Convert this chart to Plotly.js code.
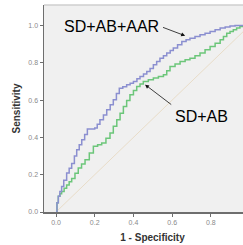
<!DOCTYPE html>
<html><head><meta charset="utf-8">
<script src="https://cdn.plot.ly/plotly-3.0.1.min.js"></script>
<style>html,body{margin:0;padding:0;overflow:hidden;background:#fff}</style>
</head><body><div id="chart"></div>
<script>
const blueX = [0,0.005,0.012,0.02,0.029,0.04,0.055,0.068,0.081,0.095,0.107,0.12,0.133,0.148,0.162,0.18,0.2,0.213,0.227,0.245,0.262,0.28,0.296,0.312,0.327,0.345,0.365,0.383,0.4,0.418,0.434,0.452,0.469,0.486,0.503,0.52,0.537,0.555,0.572,0.59,0.606,0.628,0.65,0.672,0.692,0.718,0.744,0.77,0.796,0.822,0.848,0.874,0.899,0.925,0.95,0.975,1];
const blueY = [0,0.05,0.084,0.11,0.137,0.17,0.209,0.235,0.26,0.3,0.334,0.36,0.387,0.415,0.445,0.445,0.45,0.47,0.495,0.52,0.548,0.575,0.602,0.635,0.664,0.672,0.682,0.69,0.70,0.715,0.727,0.74,0.753,0.77,0.789,0.807,0.825,0.838,0.852,0.866,0.879,0.897,0.914,0.923,0.932,0.941,0.95,0.959,0.968,0.977,0.986,0.992,0.998,1,1,1,1];
const greenX = [0,0.005,0.012,0.02,0.029,0.042,0.055,0.068,0.081,0.098,0.115,0.132,0.15,0.172,0.193,0.215,0.236,0.258,0.279,0.296,0.314,0.331,0.348,0.365,0.382,0.4,0.417,0.434,0.451,0.477,0.503,0.529,0.555,0.572,0.589,0.615,0.641,0.667,0.692,0.718,0.744,0.77,0.796,0.822,0.848,0.865,0.882,0.899,0.916,0.933,0.95,0.975,1];
const greenY = [0,0.05,0.084,0.098,0.11,0.128,0.145,0.162,0.18,0.208,0.236,0.258,0.28,0.316,0.352,0.36,0.37,0.396,0.423,0.46,0.495,0.53,0.566,0.598,0.629,0.651,0.673,0.687,0.70,0.709,0.718,0.727,0.736,0.758,0.78,0.793,0.807,0.816,0.825,0.838,0.852,0.87,0.888,0.905,0.923,0.941,0.959,0.968,0.977,0.986,0.995,0.998,1];
const refX = [0,1];
const refY = [0,1];
const tickVals = [0,0.2,0.4,0.6,0.8,1.0];
const tickText = ['0.0','0.2','0.4','0.6','0.8','1.0'];
const labelBlue = 'SD+AB+AAR';
const labelGreen = 'SD+AB';

const font = 'Arial, "Liberation Sans", sans-serif';
const traces = [
  {x: refX, y: refY, mode: 'lines', line: {color: '#e8dcc8', width: 1}, hoverinfo: 'skip'},
  {x: greenX, y: greenY, mode: 'lines', line: {color: '#6cc67a', width: 1.5, shape: 'hv'}},
  {x: blueX, y: blueY, mode: 'lines', line: {color: '#8b8fd0', width: 1.5, shape: 'hv'}}
];
const axisCommon = {
  showgrid: false, zeroline: false, showline: true, linecolor: '#6e6e6e', linewidth: 1.5,
  ticks: 'outside', ticklen: 3, tickcolor: '#6e6e6e', tickwidth: 1,
  tickfont: {family: font, size: 7, color: '#8a8a8a'},
  tickvals: tickVals, ticktext: tickText
};
const layout = {
  width: 270, height: 245,
  margin: {l: 44, r: 9, t: 5, b: 33},
  paper_bgcolor: '#ffffff', plot_bgcolor: '#f0f0f0',
  showlegend: false,
  font: {family: font},
  xaxis: Object.assign({}, axisCommon, {range: [-0.062, 1.059],
    title: {text: '<b>1 - Specificity</b>', font: {family: font, size: 10, color: '#333'}, standoff: 9}}),
  yaxis: Object.assign({}, axisCommon, {range: [0, 1.11],
    title: {text: '<b>Sensitivity</b>', font: {family: font, size: 10, color: '#333'}, standoff: 6}}),
  shapes: [
    {type: 'line', xref: 'paper', yref: 'paper', x0: 0, x1: 1, y0: 1, y1: 1, line: {color: '#cfcfcf', width: 1.5}}
  ],
  annotations: [
    {x: 0.289, y: 0.993, xref: 'x', yref: 'y', text: labelBlue, showarrow: false, font: {family: font, size: 16, color: '#000'}},
    {x: 0.753, y: 0.512, xref: 'x', yref: 'y', text: labelGreen, showarrow: false, font: {family: font, size: 16, color: '#000'}},
    {x: 0.667, y: 0.945, xref: 'x', yref: 'y', ax: 0.545, ay: 0.993, axref: 'x', ayref: 'y', text: '', showarrow: true, arrowhead: 2, arrowsize: 1, arrowwidth: 0.8, arrowcolor: '#111'},
    {x: 0.46, y: 0.683, xref: 'x', yref: 'y', ax: 0.603, ay: 0.57, axref: 'x', ayref: 'y', text: '', showarrow: true, arrowhead: 2, arrowsize: 1, arrowwidth: 0.8, arrowcolor: '#111'}
  ]
};
Plotly.newPlot('chart', traces, layout, {displayModeBar: false, staticPlot: true});
</script></body></html>
